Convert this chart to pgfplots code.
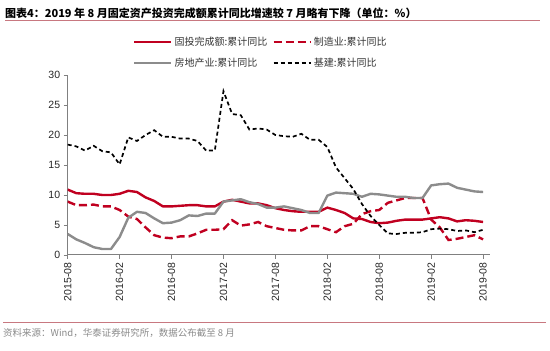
\documentclass[border=0pt]{standalone}
\usepackage{fontspec}
\setmainfont{Liberation Sans}
\newfontfamily\cjk{Noto Sans CJK SC}
\usepackage{pgfplots}
\usepackage{pgfplotstable}
\pgfplotsset{compat=1.18}
\definecolor{myred}{HTML}{C00020}
\definecolor{mygray}{HTML}{8C8C8C}
\definecolor{axisgray}{HTML}{808080}
\definecolor{rulered}{HTML}{C87880}
\definecolor{srcgray}{HTML}{8A8A8A}
\pgfplotstableread{
x fai mfg re inf
0 10.9 8.9 3.5 18.4
1 10.3 8.3 2.6 18.1
2 10.2 8.3 2.0 17.4
3 10.2 8.4 1.3 18.2
4 10.0 8.1 1.0 17.3
5 10.0 8.1 1.0 17.1
6 10.2 7.5 3.0 15.1
7 10.7 6.4 6.2 19.6
8 10.5 6.0 7.2 19.0
9 9.6 4.6 7.0 20.0
10 9.0 3.3 6.1 20.8
11 8.1 2.9 5.3 19.7
12 8.1 2.8 5.4 19.7
13 8.2 3.1 5.8 19.4
14 8.3 3.1 6.6 19.4
15 8.3 3.6 6.5 19.0
16 8.1 4.2 6.9 17.4
17 8.1 4.2 6.9 17.4
18 8.9 4.3 8.9 27.3
19 9.2 5.8 9.1 23.5
20 8.9 4.9 9.3 23.3
21 8.6 5.1 8.8 20.9
22 8.6 5.5 8.5 21.1
23 8.3 4.8 7.9 20.9
24 7.8 4.5 7.9 20.0
25 7.5 4.2 8.1 19.8
26 7.3 4.1 7.8 19.7
27 7.2 4.1 7.5 20.2
28 7.2 4.8 7.0 19.2
29 7.2 4.8 7.0 19.2
30 7.9 4.3 9.9 18.0
31 7.5 3.8 10.4 14.6
32 7.0 4.8 10.3 12.8
33 6.1 5.2 10.2 11.0
34 6.0 6.8 9.7 8.5
35 5.5 7.3 10.2 6.5
36 5.3 7.5 10.1 5.0
37 5.4 8.7 9.9 3.6
38 5.7 9.1 9.7 3.5
39 5.9 9.5 9.7 3.7
40 5.9 9.5 9.5 3.7
41 5.9 9.5 9.5 3.8
42 6.1 5.9 11.6 4.3
43 6.3 4.6 11.8 4.4
44 6.1 2.5 11.9 4.3
45 5.6 2.7 11.2 4.0
46 5.8 3.0 10.9 4.1
47 5.7 3.3 10.6 3.8
48 5.5 2.6 10.5 4.2
}\data
\begin{document}
\begin{tikzpicture}[x=1pt,y=1pt]
\path[use as bounding box] (0,0) rectangle (550,351);
\node[anchor=west, inner sep=0, font=\cjk\bfseries\fontsize{11}{13}\selectfont] at (5,338) {图表4：2019 年 8 月固定资产投资完成额累计同比增速较 7 月略有下降（单位：\%）};
\draw[rulered, line width=1pt] (5,330) -- (540,330);
\draw[rulered, line width=1pt] (3,28.3) -- (546,28.3);
\node[anchor=west, inner sep=0, text=srcgray, font=\cjk\fontsize{9.5}{11}\selectfont] at (3,18) {资料来源：Wind，华泰证券研究所，数据公布截至 8 月};
\begin{axis}[
  scale only axis, width=422.3pt, height=180pt,
  at={(67.7pt,96pt)}, anchor=south west,
  xmin=0, xmax=48.8, ymin=0, ymax=30,
  axis lines=left,
  axis line style={-, draw=axisgray, line width=1pt},
  tick align=outside, major tick length=4pt,
  tick style={draw=axisgray, line width=0.8pt},
  xtick={0,6,...,48},
  xticklabels={2015-08,2016-02,2016-08,2017-02,2017-08,2018-02,2018-08,2019-02,2019-08},
  ytick={0,5,...,30},
  x tick label style={rotate=90, anchor=east, font=\fontsize{10.5}{12}\selectfont, text=black!85},
  y tick label style={font=\fontsize{10.5}{12}\selectfont, text=black!85},
  /pgf/number format/assume math mode=true,
  legend columns=2,
  legend cell align=left,
  legend image code/.code={\draw[#1] (0pt,0pt) -- (37pt,0pt);},
  legend style={at={(axis description cs:0.1475,1.233)}, anchor=north west, draw=none, fill=none,
    font=\cjk\fontsize{10}{12}\selectfont, text=black!80, row sep=7pt,
    /tikz/every even column/.append style={column sep=3pt}},
]
\addplot[myred, line width=2.4pt, line join=round] table[x=x,y=fai]{\data};
\addlegendentry{固投完成额:累计同比}
\addplot[myred, line width=2.4pt, dash pattern=on 8pt off 4pt] table[x=x,y=mfg]{\data};
\addlegendentry{制造业:累计同比}
\addplot[mygray, line width=2.4pt, line join=round] table[x=x,y=re]{\data};
\addlegendentry{房地产业:累计同比}
\addplot[black, line width=1.7pt, dash pattern=on 4pt off 3pt] table[x=x,y=inf]{\data};
\addlegendentry{基建:累计同比}
\end{axis}
\end{tikzpicture}
\end{document}
